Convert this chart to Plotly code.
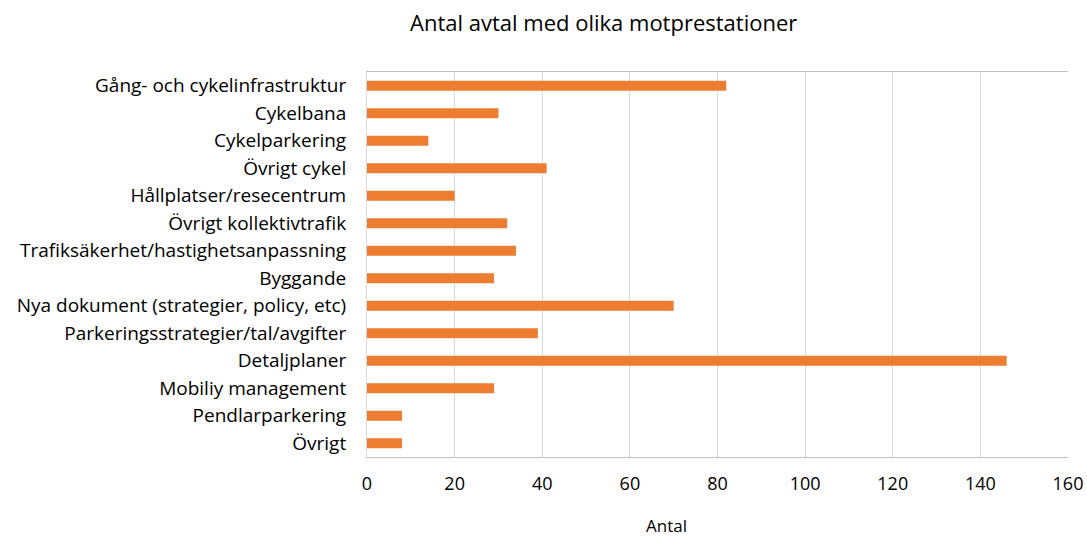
import plotly.graph_objects as go

categories = [
    "Gång- och cykelinfrastruktur",
    "Cykelbana",
    "Cykelparkering",
    "Övrigt cykel",
    "Hållplatser/resecentrum",
    "Övrigt kollektivtrafik",
    "Trafiksäkerhet/hastighetsanpassning",
    "Byggande",
    "Nya dokument (strategier, policy, etc)",
    "Parkeringsstrategier/tal/avgifter",
    "Detaljplaner",
    "Mobiliy management",
    "Pendlarparkering",
    "Övrigt",
]
values = [82, 30, 14, 41, 20, 32, 34, 29, 70, 39, 146, 29, 8, 8]
x_ticks = [0, 20, 40, 60, 80, 100, 120, 140, 160]

W, H = 1087, 537
L, R, T, B = 367, 19, 72, 80
FONT = "Open Sans"
FS = 19

fig = go.Figure(
    go.Bar(
        x=values,
        y=categories,
        orientation="h",
        marker=dict(color="#ED7D31", line=dict(width=0)),
        width=0.37,
    )
)

fig.update_layout(
    width=W,
    height=H,
    margin=dict(l=L, r=R, t=T, b=B, autoexpand=False),
    paper_bgcolor="white",
    plot_bgcolor="white",
    showlegend=False,
    font=dict(family=FONT, color="#000000"),
)

fig.update_xaxes(
    range=[0, 160],
    tickvals=x_ticks,
    showgrid=True,
    gridcolor="#d9d9d9",
    gridwidth=1,
    zeroline=False,
    showline=True,
    linecolor="#bfbfbf",
    mirror=True,
    tickfont=dict(size=FS - 1, family=FONT),
    ticks="",
    ticklabelstandoff=10,
    automargin=False,
    fixedrange=True,
)
fig.update_yaxes(
    autorange="reversed",
    showgrid=False,
    showline=True,
    linecolor="#d9d9d9",
    tickfont=dict(size=FS, family=FONT),
    ticks="",
    ticklabelstandoff=16,
    automargin=False,
    fixedrange=True,
)

fig.add_annotation(
    text="Antal avtal med olika motprestationer",
    xref="paper", yref="paper",
    x=(603 - L) / (W - L - R), y=1 + (T - 22) / (H - T - B),
    xanchor="center", yanchor="middle",
    showarrow=False,
    font=dict(size=22, family=FONT, color="#000000"),
)
fig.add_annotation(
    text="Antal",
    xref="paper", yref="paper",
    x=(666 - L) / (W - L - R), y=-(525 - (H - B)) / (H - T - B),
    xanchor="center", yanchor="middle",
    showarrow=False,
    font=dict(size=FS - 2, family=FONT, color="#000000"),
)

fig.write_html(
    "out.html",
    config={"displayModeBar": False},
    post_script="document.body.style.margin='0px';document.body.style.padding='0px';",
)
